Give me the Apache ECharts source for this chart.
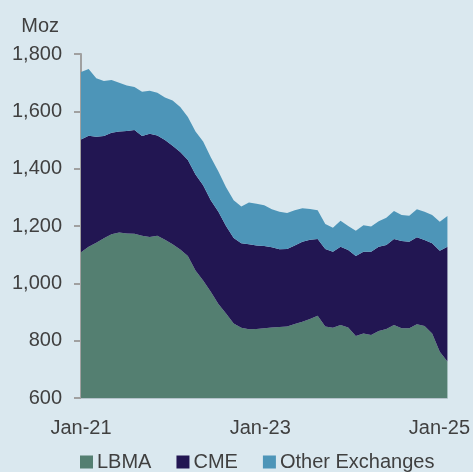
<!DOCTYPE html>
<html>
<head>
<meta charset="utf-8">
<script src="https://cdn.jsdelivr.net/npm/echarts@6/dist/echarts.min.js"></script>
<style>
  html, body { margin: 0; padding: 0; background: #dae8ef; }
  #chart { width: 473px; height: 472px; }
</style>
</head>
<body>
<div id="chart"></div>
<script>
// monthly, Jan-21 .. Jan-25 (Moz)
var months = [];
var yrs = ['21', '22', '23', '24', '25'];
var mnames = ['Jan','Feb','Mar','Apr','May','Jun','Jul','Aug','Sep','Oct','Nov','Dec'];
for (var y = 0; y < yrs.length; y++) {
	for (var m = 0; m < 12; m++) {
		months.push(mnames[m] + '-' + yrs[y]);
		if (y == yrs.length - 1) break;
	}
}

var lbma = [1108, 1128, 1142, 1157, 1171, 1177, 1174, 1173, 1166, 1162, 1166, 1152,
	1136, 1118, 1095, 1045, 1010, 971, 928, 895, 860, 845, 840, 841,
	843, 846, 848, 849, 858, 866, 876, 887, 849, 845, 855, 846,
	816, 825, 820, 834, 841, 855, 843, 843, 857, 851, 825, 761,
	727];
var cme = [394, 387, 369, 357, 354, 353, 357, 362, 348, 360, 350, 348,
	344, 340, 335, 335, 332, 319, 322, 305, 298, 295, 296, 291,
	287, 280, 271, 271, 274, 279, 276, 268, 271, 265, 273, 270,
	279, 285, 290, 294, 293, 300, 305, 302, 304, 300, 315, 353,
	401];
var other = [235, 233, 204, 192, 184, 170, 159, 150, 154, 150, 149, 148,
	158, 157, 150, 150, 153, 150, 140, 135, 132, 128, 146, 146,
	142, 132, 131, 125, 123, 117, 107, 100, 87, 84, 90, 84,
	88, 93, 88, 89, 95, 97, 90, 91, 97, 99, 98, 101,
	107];
var seriesNames = ['LBMA', 'CME', 'Other Exchanges'];
var colors = ['#547f71', '#221652', '#4d95b8'];

var font = 'Liberation Sans, Arial, sans-serif';
var txt = '#404040';
var myChart = echarts.init(document.getElementById('chart'));

function areaSeries(name, data, color) {
	return {
		name: name,
		type: 'line',
		stack: 'total',
		data: data,
		symbol: 'none',
		lineStyle: { width: 0 },
		areaStyle: { color: color, opacity: 1 },
		itemStyle: { color: color },
		animation: false
	};
}

var option = {
	backgroundColor: '#dae8ef',
	grid: { left: 81, right: 25, top: 54, bottom: 74 },
	legend: {
		left: 75,
		top: 447,
		itemWidth: 13,
		itemHeight: 13,
		itemGap: 25,
		icon: 'rect',
		textStyle: { fontFamily: font, fontSize: 20, color: txt, padding: [0, 0, 0, -1] },
		data: seriesNames
	},
	xAxis: {
		type: 'category',
		data: months,
		boundaryGap: false,
		axisLine: { show: true, lineStyle: { color: '#b4c2ca', width: 1 } },
		axisTick: { show: false },
		axisLabel: {
			interval: 23,
			margin: 20,
			fontFamily: font,
			fontSize: 20,
			color: txt,
			formatter: function(v, i) {
				if (i == months.length - 1) return '{r|' + v + '}';
				if (i == 24) return '{m|' + v + '}';
				return v;
			},
			rich: {
				r: { fontFamily: font, fontSize: 20, color: txt, padding: [0, 16, 0, 0] },
				m: { fontFamily: font, fontSize: 20, color: txt, padding: [0, 8, 0, 0] }
			}
		},
		splitLine: { show: false }
	},
	yAxis: {
		type: 'value',
		min: 600,
		max: 1800,
		interval: 200,
		name: 'Moz',
		nameLocation: 'end',
		nameGap: 18,
		nameTextStyle: { fontFamily: font, fontSize: 20, color: txt, align: 'right', padding: [0, 22, 0, 0] },
		axisLine: { show: true, lineStyle: { color: '#a0a0a0', width: 2 } },
		axisTick: { show: true, length: 7, lineStyle: { color: '#a0a0a0', width: 2 } },
		axisLabel: {
			margin: 19,
			fontFamily: font,
			fontSize: 20,
			color: txt,
			formatter: function(v) { return v.toLocaleString('en-US'); }
		},
		splitLine: { show: false }
	},
	series: [
		areaSeries(seriesNames[0], lbma, colors[0]),
		areaSeries(seriesNames[1], cme, colors[1]),
		areaSeries(seriesNames[2], other, colors[2])
	]
};
myChart.setOption(option);
</script>
</body>
</html>
